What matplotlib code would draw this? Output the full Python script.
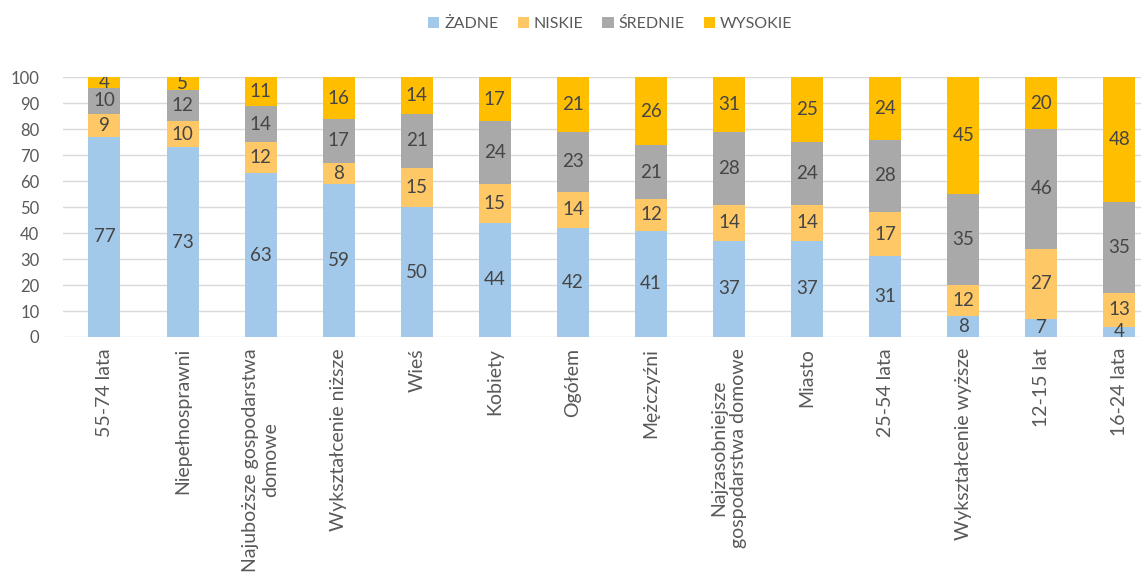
import matplotlib.pyplot as plt
import numpy as np

plt.rcParams['font.family'] = ['Lato', 'DejaVu Sans']

categories = [
    "55-74 lata", "Niepełnosprawni", "Najuboższe gospodarstwa\ndomowe",
    "Wykształcenie niższe", "Wieś", "Kobiety", "Ogółem", "Mężczyźni",
    "Najzasobniejsze\ngospodarstwa domowe", "Miasto", "25-54 lata",
    "Wykształcenie wyższe", "12-15 lat", "16-24 lata"
]
zadne = [77, 73, 63, 59, 50, 44, 42, 41, 37, 37, 31, 8, 7, 4]
niskie = [9, 10, 12, 8, 15, 15, 14, 12, 14, 14, 17, 12, 27, 13]
srednie = [10, 12, 14, 17, 21, 24, 23, 21, 28, 24, 28, 35, 46, 35]
wysokie = [4, 5, 11, 16, 14, 17, 21, 26, 31, 25, 24, 45, 20, 48]

series = [
    ("ŻADNE", zadne, "#A3C9EA"),
    ("NISKIE", niskie, "#FFC866"),
    ("ŚREDNIE", srednie, "#A9A9A9"),
    ("WYSOKIE", wysokie, "#FFBF00"),
]

fig = plt.figure(figsize=(11.47, 5.81), dpi=100)
ax = fig.add_axes([0.055, 0.42, 0.94, 0.447])

x = np.arange(len(categories))
bottom = np.zeros(len(categories))
for name, vals, color in series:
    bars = ax.bar(x, vals, width=0.41, bottom=bottom, color=color, label=name, zorder=2)
    ax.bar_label(bars, labels=[str(v) for v in vals], label_type='center',
                 fontsize=13.5, color='#454545', clip_on=True)
    bottom += np.array(vals)

ax.set_ylim(0, 100)
ax.set_xlim(-0.53, 13.28)
ax.set_yticks(range(0, 101, 10))
ax.yaxis.grid(True, color='#D9D9D9', linewidth=1, zorder=0)
ax.set_axisbelow(True)
for s in ax.spines.values():
    s.set_visible(False)
ax.tick_params(axis='y', length=0, labelsize=12, labelcolor='#595959', pad=17)
ax.tick_params(axis='x', length=0, labelsize=14, labelcolor='#595959', pad=8)
ax.set_xticks(x)
ax.set_xticklabels(categories, rotation=90, ha='center', va='top', multialignment='center')

fig.legend(loc='upper center', bbox_to_anchor=(0.532, 0.995), ncol=4, frameon=False,
           fontsize=11.5, labelcolor='#595959', handlelength=0.7, handleheight=0.7,
           handletextpad=0.3, columnspacing=1.2)

fig.savefig("out.png", dpi=100)
